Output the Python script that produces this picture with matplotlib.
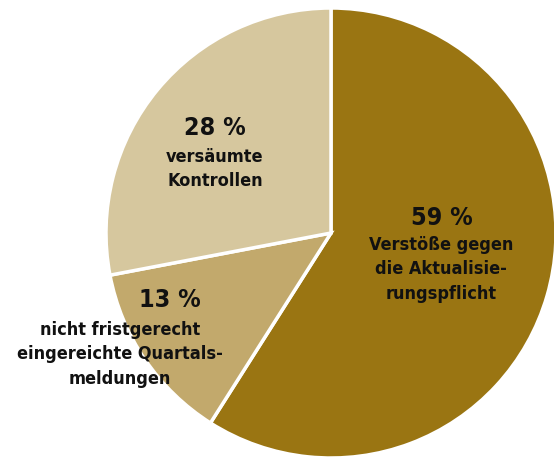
import matplotlib.pyplot as plt
from matplotlib import font_manager

# Daten
shares = [59, 13, 28]
labels = ["Verstöße gegen\ndie Aktualisie-\nrungspflicht",
          "nicht fristgerecht\neingereichte Quartals-\nmeldungen",
          "versäumte\nKontrollen"]
colors = ["#9a7512", "#c2a96c", "#d6c79e"]

# Schrift: schmal und fett, wenn vorhanden
cond = [f for f in font_manager.fontManager.ttflist
        if f.stretch in ("condensed", "semi-condensed") and f.weight in ("bold", 700)]
family = "DejaVu Sans"
stretch = "condensed" if any(f.name == "DejaVu Sans" for f in cond) else "normal"

W, H = 554, 457
fig = plt.figure(figsize=(W / 100, H / 100), dpi=100)
ax = fig.add_axes([0, 0, 1, 1])

ax.pie(shares, colors=colors, startangle=90, counterclock=False,
       center=(331, H - 233), radius=225, frame=True,
       wedgeprops=dict(edgecolor="white", linewidth=2.5))
ax.set_xlim(0, W)
ax.set_ylim(0, H)
ax.set_aspect("equal")
ax.axis("off")

# Beschriftung (Bildkoordinaten: x, y von oben)
pos = [(442, 218), (170, 300), (215, 128)]
for (x, y), s in zip(pos, shares):
    ax.text(x, H - y, f"{s} %", ha="center", va="center", fontsize=18,
            fontweight="bold", family=family, fontstretch=stretch, color="#111111")

sub = [(441, 245), (120, 330), (215, 157)]
for (x, y), lab in zip(sub, labels):
    ax.text(x, H - y + 9, lab, ha="center", va="top", fontsize=13, fontweight="bold",
            family=family, fontstretch=stretch, color="#111111",
            linespacing=1.45, multialignment="center")

fig.savefig("out.png", dpi=100)
